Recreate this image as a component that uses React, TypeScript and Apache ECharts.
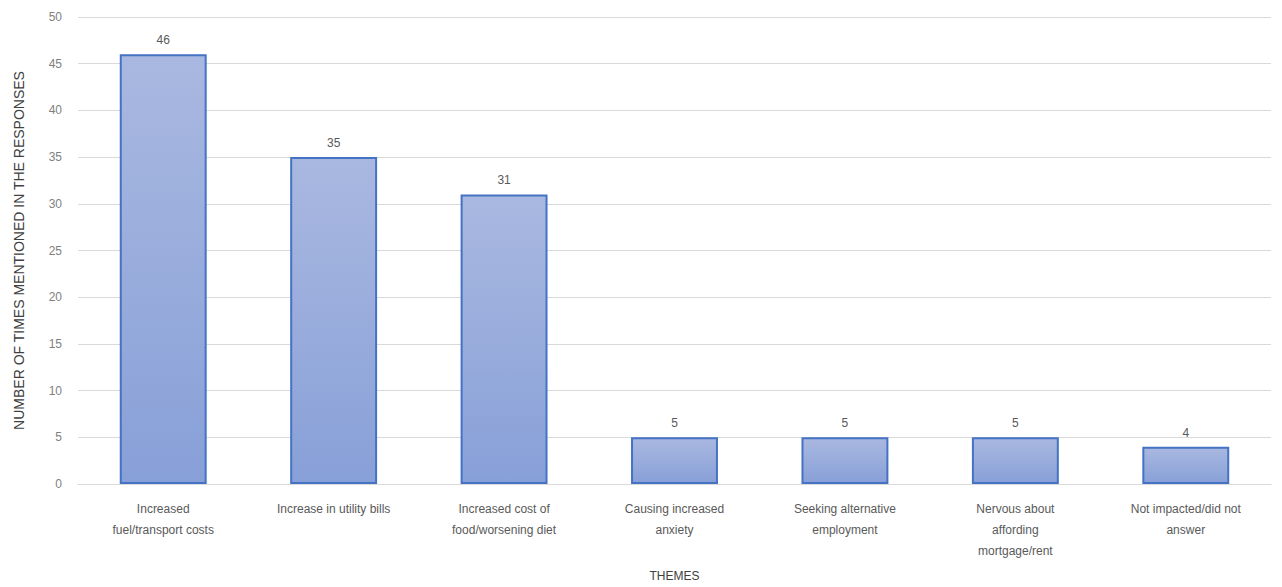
import React, { useEffect, useRef } from "react";
import * as echarts from "echarts";

const categories = [
  "Increased\nfuel/transport costs",
  "Increase in utility bills",
  "Increased cost of\nfood/worsening diet",
  "Causing increased\nanxiety",
  "Seeking alternative\nemployment",
  "Nervous about\naffording\nmortgage/rent",
  "Not impacted/did not\nanswer",
];
const counts = [46, 35, 31, 5, 5, 5, 4];

const yAxisTitle = "NUMBER OF TIMES MENTIONED IN THE RESPONSES";
const xAxisTitle = "THEMES";

const FONT = "'Liberation Sans', Arial, sans-serif";

export default function App() {
  const ref = useRef<HTMLDivElement>(null);

  useEffect(() => {
    if (!ref.current) return;
    const chart = echarts.init(ref.current, undefined, { renderer: "svg" });
    chart.setOption({
      animation: false,
      textStyle: { fontFamily: FONT },
      grid: { left: 78, right: 11, top: 17, bottom: 100, containLabel: false },
      xAxis: {
        type: "category",
        data: categories,
        name: xAxisTitle,
        nameLocation: "middle",
        nameGap: 86,
        nameTextStyle: { color: "#404040", fontSize: 12, fontFamily: FONT },
        axisLine: { lineStyle: { color: "#d9d9d9", width: 1 } },
        axisTick: { show: false },
        axisLabel: {
          color: "#595959",
          fontSize: 12,
          lineHeight: 21,
          margin: 14,
          interval: 0,
          fontFamily: FONT,
        },
      },
      yAxis: {
        type: "value",
        min: 0,
        max: 50,
        interval: 5,
        name: yAxisTitle,
        nameLocation: "middle",
        nameGap: 52,
        nameTextStyle: { color: "#404040", fontSize: 14, fontFamily: FONT },
        axisLine: { show: false },
        axisTick: { show: false },
        axisLabel: { color: "#7f7f7f", fontSize: 12, margin: 16, fontFamily: FONT },
        splitLine: { lineStyle: { color: "#d9d9d9", width: 1 } },
      },
      series: [
        {
          type: "bar",
          data: counts,
          barWidth: "51%",
          itemStyle: {
            color: new echarts.graphic.LinearGradient(0, 0, 0, 1, [
              { offset: 0, color: "#a9b8e0" },
              { offset: 1, color: "#88a0d8" },
            ]),
            borderColor: "#4472c4",
            borderWidth: 2,
          },
          label: {
            show: true,
            position: "top",
            distance: 8,
            color: "#595959",
            fontSize: 12,
            fontFamily: FONT,
          },
        },
      ],
    });
    return () => chart.dispose();
  }, []);

  return <div ref={ref} style={{ width: 1282, height: 587, position: "absolute", left: 0, top: 0 }} />;
}
